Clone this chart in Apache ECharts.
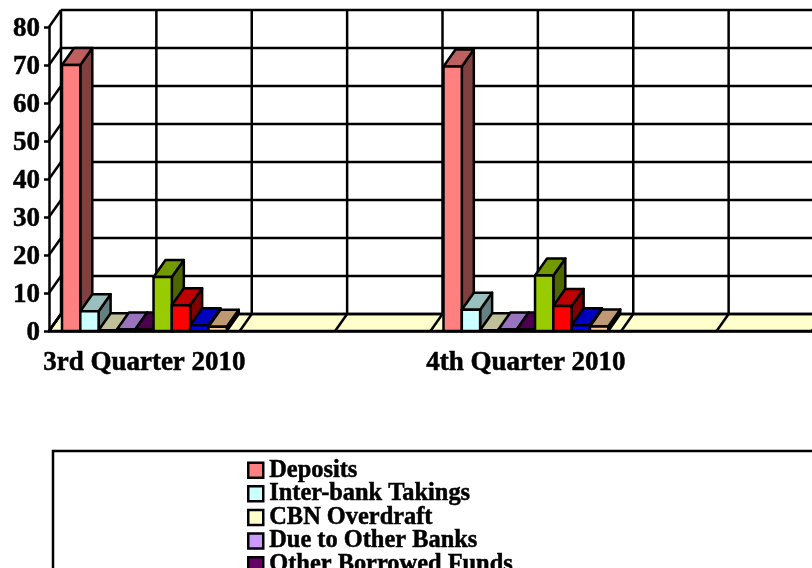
<!DOCTYPE html>
<html>
<head>
<meta charset="utf-8">
<style>
  html, body { margin: 0; padding: 0; background: #fff; overflow: hidden; }
  #main { width: 812px; height: 568px; }
</style>
<script src="https://cdn.jsdelivr.net/npm/echarts@6/dist/echarts.min.js"></script>
</head>
<body>
<div id="main"></div>
<script>
var categories = ['3rd Quarter 2010', '', '4th Quarter 2010', ''];
var yTicks = [0, 10, 20, 30, 40, 50, 60, 70, 80];

// one value per quarter, the blank slots have no bars
var deposits = [70.0, null, 69.6, null];
var interBank = [5.2, null, 5.6, null];
var cbnOverdraft = [0.2, null, 0.2, null];
var dueToBanks = [0.4, null, 0.4, null];
var otherBorrowed = [0.4, null, 0.4, null];
var greenValues = [14.2, null, 14.6, null];
var redValues = [6.8, null, 6.6, null];
var blueValues = [1.5, null, 1.5, null];
var tanValues = [1.1, null, 1.2, null];

var legendNames = ['Deposits', 'Inter-bank Takings', 'CBN Overdraft', 'Due to Other Banks', 'Other Borrowed Funds'];

var allValues = [deposits, interBank, cbnOverdraft, dueToBanks, otherBorrowed, greenValues, redValues, blueValues, tanValues];
var colors = ['#ff8080', '#ccffff', '#ffffcc', '#cc99ff', '#660066', '#99cc00', '#ff0000', '#0000ff', '#ffcc99'];

var font = 'Liberation Serif';
var depthX = 12;
var depthY = -17;
var sideGap = 13;
var lineW = 2.5;

var dom = document.getElementById('main');
var chart = echarts.init(dom, null, { renderer: 'canvas' });

// darker face of a bar
function shade(color, k) {
  var c = echarts.color.parse(color);
  return 'rgb(' + Math.round(c[0] * k) + ',' + Math.round(c[1] * k) + ',' + Math.round(c[2] * k) + ')';
}

function poly(points, fill) {
  return {
    type: 'polygon',
    shape: { points: points },
    style: { fill: fill, stroke: '#000', lineWidth: lineW, lineJoin: 'round' }
  };
}

function seg(x1, y1, x2, y2) {
  return {
    type: 'line',
    shape: { x1: x1, y1: y1, x2: x2, y2: y2 },
    style: { stroke: '#000', lineWidth: lineW, fill: null }
  };
}

// floor, back wall and left wall
function renderFrame(params, api) {
  var band = api.size([1, 0])[0];
  var zero = api.coord([0, 0]);
  var left = zero[0] - band / 2;
  var right = left + band * categories.length;
  var floorY = zero[1];
  var topY = api.coord([0, yTicks[yTicks.length - 1]])[1];
  var children = [];

  children.push(poly([
    [left, floorY],
    [left + depthX, floorY + depthY],
    [right + depthX, floorY + depthY],
    [right, floorY]
  ], '#ffffcc'));

  yTicks.forEach(function (t) {
    var y = api.coord([0, t])[1];
    children.push(seg(left, y, left + depthX, y + depthY));
    children.push(seg(left + depthX, y + depthY, right + depthX, y + depthY));
  });

  // the gridlines run at half a category
  for (var i = 0; i <= categories.length * 2; i++) {
    var x = left + i * band / 2;
    children.push(seg(x + depthX, floorY + depthY, x + depthX, topY + depthY));
    children.push(seg(x, floorY, x + depthX, floorY + depthY));
  }
  return { type: 'group', children: children };
}

function renderBar(params, api) {
  var idx = params.seriesIndex - 1;
  var cat = api.value(0);
  var band = api.size([1, 0])[0];
  var base = api.coord([cat, 0]);
  var top = api.coord([cat, api.value(1)]);
  var barW = (band - sideGap * 2) / allValues.length;
  var x0 = base[0] - band / 2 + sideGap + idx * barW;
  var x1 = x0 + barW;
  var c = colors[idx];
  return {
    type: 'group',
    children: [
      poly([[x1, base[1]], [x1 + depthX, base[1] + depthY], [x1 + depthX, top[1] + depthY], [x1, top[1]]], shade(c, 0.5)),
      poly([[x0, top[1]], [x0 + depthX, top[1] + depthY], [x1 + depthX, top[1] + depthY], [x1, top[1]]], shade(c, 0.75)),
      poly([[x0, base[1]], [x0, top[1]], [x1, top[1]], [x1, base[1]]], c)
    ]
  };
}

var series = [{
  type: 'custom',
  name: 'frame',
  renderItem: renderFrame,
  data: [[0, 0]],
  encode: { x: 0, y: 1 },
  silent: true,
  z: 1
}];

allValues.forEach(function (vals, i) {
  var rows = [];
  vals.forEach(function (v, c) {
    if (v !== null) rows.push([c, v]);
  });
  series.push({
    type: 'custom',
    name: legendNames[i] || 'Series ' + (i + 1),
    renderItem: renderBar,
    data: rows,
    encode: { x: 0, y: 1 },
    itemStyle: { color: colors[i], borderColor: '#000', borderWidth: 2 },
    z: 2 + i
  });
});

var option = {
  animation: false,
  backgroundColor: '#fff',
  textStyle: { fontFamily: font },
  grid: { left: 49, top: 27, width: 764, height: 304 },
  xAxis: {
    type: 'category',
    data: categories,
    axisLine: { lineStyle: { color: '#000', width: 2.5 } },
    axisTick: { length: 6, lineStyle: { color: '#000', width: 2.5 } },
    axisLabel: { interval: 0, color: '#000', fontFamily: font, fontWeight: 'bold', fontSize: 27, margin: 19, textBorderColor: '#000', textBorderWidth: 0.5 },
    splitLine: { show: false }
  },
  yAxis: {
    type: 'value',
    min: 0,
    max: 80,
    interval: 10,
    axisLine: { show: true, lineStyle: { color: '#000', width: 2.5 } },
    axisTick: { show: true, length: 5, lineStyle: { color: '#000', width: 2.5 } },
    // top aligned with a short line box, sits the digits a little under the tick
    axisLabel: { color: '#000', fontFamily: font, fontWeight: 'bold', fontSize: 27, margin: 9, verticalAlign: 'top', lineHeight: 4, textBorderColor: '#000', textBorderWidth: 0.5 },
    splitLine: { show: false }
  },
  legend: {
    data: legendNames,
    orient: 'vertical',
    left: 247,
    top: 458,
    height: 300,
    padding: 0,
    icon: 'rect',
    itemWidth: 15,
    itemHeight: 15,
    itemGap: -0.9,
    align: 'left',
    itemStyle: { borderColor: '#000', borderWidth: 2.5 },
    textStyle: { color: '#000', fontFamily: font, fontWeight: 'bold', fontSize: 24.4, lineHeight: 20, padding: [0, 0, 0, 1], textBorderColor: '#000', textBorderWidth: 0.5 }
  },
  graphic: [{
    type: 'rect',
    silent: true,
    z: -1,
    shape: { x: 53, y: 451, width: 800, height: 200 },
    style: { fill: '#fff', stroke: '#000', lineWidth: 2.5 }
  }],
  series: series
};

chart.setOption(option);
window.addEventListener('resize', chart.resize);
</script>
</body>
</html>
